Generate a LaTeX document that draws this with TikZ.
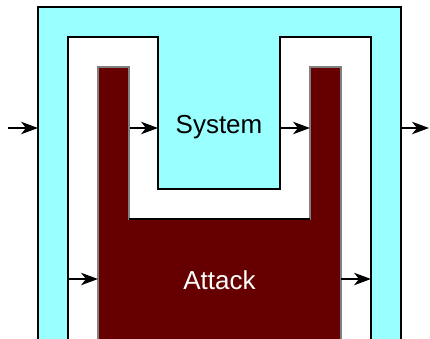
\documentclass[tikz,border=0pt]{standalone}
\usepackage{fontspec}
\setmainfont{Liberation Sans}
\usetikzlibrary{arrows.meta}
\definecolor{sysc}{HTML}{99FFFF}
\definecolor{atkc}{HTML}{660000}
\tikzset{
  box/.style={line width=1.6pt, line join=miter},
  atk/.style={fill=atkc, draw=gray, line width=1.6pt},
  flow/.style={line width=1.3pt, -{Stealth[length=17pt,width=12.5pt,inset=5pt]}},
  lbl/.style={font=\fontsize{26}{30}\selectfont, inner sep=0pt},
}
\begin{document}
\begin{tikzpicture}[x=1pt,y=-1pt]
\useasboundingbox (0,0) rectangle (430,338);
\clip (0,0) rectangle (430,338);
% outer system box
\draw[box, fill=sysc] (38,7) rectangle (401,360);
% white U
\draw[box, fill=white] (68,360) -- (68,37) -- (158,37) -- (158,189) -- (280,189) -- (280,37) -- (371,37) -- (371,360);
% attack U
\draw[atk] (98,360) -- (98,67) -- (129,67) -- (129,219) -- (310,219) -- (310,67) -- (341,67) -- (341,360);
\draw[box] (129,219) -- (310,219);
\node[lbl] (sys) at (219,127) {System};
\node[lbl, text=white] (atk) at (219.5,280) {Attack};
% coordinates
\coordinate (in0) at (8,128);
\coordinate (in1) at (38,128);
\coordinate (a1) at (130,128);
\coordinate (b1) at (158,128);
\coordinate (a2) at (280,128);
\coordinate (b2) at (310,128);
\coordinate (o1) at (401,128);
\coordinate (o2) at (429,128);
\coordinate (c1) at (68,279);
\coordinate (d1) at (98,279);
\coordinate (c2) at (341,279);
\coordinate (d2) at (371,279);
\draw[flow] (in0) -- (in1);
\draw[flow] (a1) -- (b1);
\draw[flow] (a2) -- (b2);
\draw[flow] (o1) -- (o2);
\draw[flow] (c1) -- (d1);
\draw[flow] (c2) -- (d2);
\end{tikzpicture}
\end{document}
